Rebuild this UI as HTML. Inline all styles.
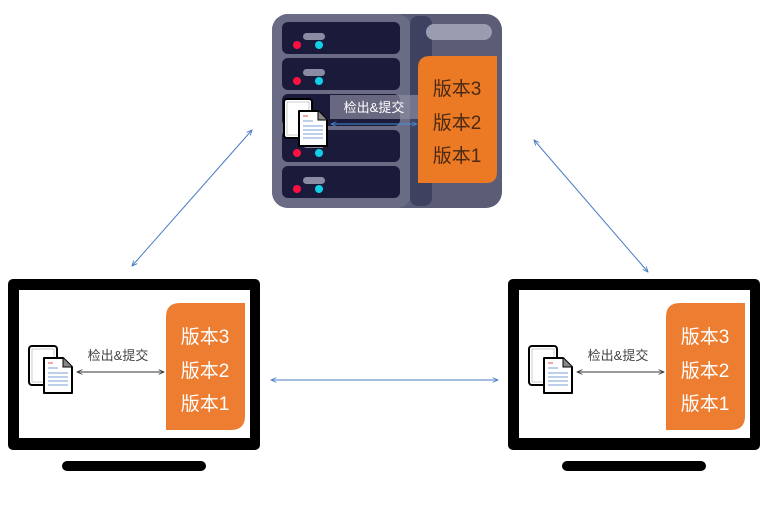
<!DOCTYPE html>
<html><head><meta charset="utf-8"><style>
html,body{margin:0;padding:0;background:#fff;}
svg{display:block;}
text{font-family:"Liberation Sans","Noto Sans CJK SC",sans-serif;}
</style></head><body>
<svg width="768" height="514" viewBox="0 0 768 514" xmlns="http://www.w3.org/2000/svg">
<defs>
<marker id="ab" viewBox="0 0 10 10" refX="9" refY="5" markerWidth="6" markerHeight="6" orient="auto-start-reverse"><path d="M0,1 L9,5 L0,9" fill="none" stroke="#4a7cc4" stroke-width="1.5"/></marker>
<marker id="ak" viewBox="0 0 10 10" refX="9" refY="5" markerWidth="6" markerHeight="6" orient="auto-start-reverse"><path d="M0,1 L9,5 L0,9" fill="none" stroke="#333" stroke-width="1.5"/></marker>
<g id="doc">
<rect x="0" y="0" width="28" height="39" rx="3" fill="#fff" stroke="#000" stroke-width="2"/>
<rect x="3" y="3" width="22" height="33" fill="#fff" stroke="#999" stroke-width="0.5"/>
<path d="M15,12 L34,12 L43,21 L43,47 L15,47 Z" fill="#fff" stroke="#000" stroke-width="2" stroke-linejoin="round"/>
<path d="M34,12 L34,21 L43,21" fill="#888" stroke="#000" stroke-width="1"/>
<line x1="19" y1="17" x2="24" y2="17" stroke="#e05050" stroke-width="1"/>
<line x1="19" y1="22" x2="29" y2="22" stroke="#7aa0d8" stroke-width="1"/>
<line x1="19" y1="27" x2="39" y2="27" stroke="#7aa0d8" stroke-width="1"/>
<line x1="19" y1="31" x2="39" y2="31" stroke="#7aa0d8" stroke-width="1"/>
<line x1="19" y1="35" x2="39" y2="35" stroke="#7aa0d8" stroke-width="1"/>
<line x1="19" y1="39" x2="39" y2="39" stroke="#7aa0d8" stroke-width="1"/>
</g>
<g id="mon">
<rect x="8" y="279" width="252" height="171" rx="5" fill="#000"/>
<rect x="19" y="290" width="231" height="148" fill="#fff"/>
<path d="M180,303 L245,303 L245,416 Q245,430 231,430 L166,430 L166,317 Q166,303 180,303 Z" fill="#ed7d31"/>
<text x="205" y="343" font-size="19" fill="#fff" text-anchor="middle">版本3</text>
<text x="205" y="377" font-size="19" fill="#fff" text-anchor="middle">版本2</text>
<text x="205" y="410" font-size="19" fill="#fff" text-anchor="middle">版本1</text>
<use href="#doc" x="29" y="346"/>
<text x="118" y="360" font-size="13" fill="#444" text-anchor="middle">检出&amp;提交</text>
<line x1="77" y1="372" x2="164" y2="372" stroke="#333" stroke-width="1" marker-start="url(#ak)" marker-end="url(#ak)"/>
<rect x="62" y="461" width="144" height="10" rx="5" fill="#000"/>
</g>
</defs>

<use href="#mon"/>
<use href="#mon" x="500"/>

<!-- connectors -->
<line x1="132" y1="266" x2="252" y2="130" stroke="#4a7cc4" stroke-width="1" marker-start="url(#ab)" marker-end="url(#ab)"/>
<line x1="534" y1="140" x2="648" y2="272" stroke="#4a7cc4" stroke-width="1" marker-start="url(#ab)" marker-end="url(#ab)"/>
<line x1="271" y1="380" x2="498" y2="380" stroke="#4a7cc4" stroke-width="1" marker-start="url(#ab)" marker-end="url(#ab)"/>

<!-- server -->
<rect x="272" y="14" width="230" height="194" rx="16" fill="#5b5d77"/>
<rect x="272" y="14" width="140" height="194" rx="16" fill="#6a6c86"/>
<rect x="410" y="16" width="22" height="190" rx="8" fill="#3f4160"/>
<rect x="426" y="24" width="66" height="16" rx="8" fill="#9a9cb0"/>
<g>
<rect x="282" y="22" width="118" height="32" rx="6" fill="#1a1a3a"/>
<rect x="282" y="58" width="118" height="32" rx="6" fill="#1a1a3a"/>
<rect x="282" y="94" width="118" height="32" rx="6" fill="#1a1a3a"/>
<rect x="282" y="130" width="118" height="32" rx="6" fill="#1a1a3a"/>
<rect x="282" y="166" width="118" height="32" rx="6" fill="#1a1a3a"/>
</g>
<g fill="#8a8ca4">
<rect x="303" y="33" width="22" height="7" rx="3.5"/><rect x="303" y="69" width="22" height="7" rx="3.5"/><rect x="303" y="141" width="22" height="7" rx="3.5"/><rect x="303" y="177" width="22" height="7" rx="3.5"/>
</g>
<g fill="#ff1040">
<circle cx="297" cy="45" r="4"/><circle cx="297" cy="81" r="4"/><circle cx="297" cy="153" r="4"/><circle cx="297" cy="189" r="4"/>
</g>
<g fill="#10d0e8">
<circle cx="319" cy="45" r="4"/><circle cx="319" cy="81" r="4"/><circle cx="319" cy="153" r="4"/><circle cx="319" cy="189" r="4"/>
</g>
<path d="M430,56 L497,56 L497,172 Q497,183 486,183 L418,183 L418,68 Q418,56 430,56 Z" fill="#ec7a24"/>
<text x="457" y="95" font-size="19" fill="#4a2a14" text-anchor="middle">版本3</text>
<text x="457" y="129" font-size="19" fill="#4a2a14" text-anchor="middle">版本2</text>
<text x="457" y="162" font-size="19" fill="#4a2a14" text-anchor="middle">版本1</text>
<rect x="330" y="95" width="88" height="24" fill="#8a8ca0" opacity="0.7"/>
<text x="374" y="112" font-size="13" fill="#fff" text-anchor="middle">检出&amp;提交</text>
<line x1="331" y1="124" x2="417" y2="124" stroke="#4a90d8" stroke-width="1" marker-start="url(#ab)" marker-end="url(#ab)"/>
<use href="#doc" x="284" y="99"/>
</svg>
</body></html>
